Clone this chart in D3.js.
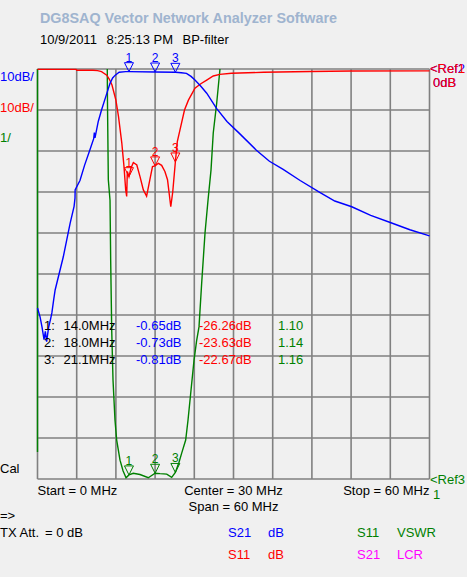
<!DOCTYPE html>
<html><head><meta charset="utf-8">
<script src="https://cdn.jsdelivr.net/npm/d3@7"></script>
<style>
html,body{margin:0;padding:0;background:#f0f0f0;}
svg{display:block;font-family:"Liberation Sans",Arial,sans-serif;}
</style></head>
<body>
<script>
// ---- data ----
const xGridTicks = [0,6,12,18,24,30,36,42,48,54,60];          // MHz
const dbGridTicks = [0,-10,-20,-30,-40,-50,-60,-70,-80,-90,-100];

// S21 (blue) transmission, dB
const s21Freq = [0,0.4,0.7,1.0,1.2,1.4,1.7,2.0,2.2,2.5,2.7,3.3,3.95,4.5,5.0,5.6,5.74,5.76,6.5,7.2,8.0,8.6,8.7,8.8,9.3,9.8,10.5,11.1,11.5,11.9,12.5,13.5,14.0,18.0,21.1,22.0,22.8,23.5,24.1,25.0,25.9,27.4,29.0,30.9,33.5,35.5,37.6,40.2,43.2,45.5,48.1,51,54.1,57,60];
const s21Db   = [-58.3,-60.5,-63,-66,-64,-66.5,-63,-61,-59.5,-56,-53.9,-50,-45.8,-41.5,-37.6,-33.5,-31.5,-29.5,-27.2,-23.5,-19.8,-17,-15.5,-16.8,-12.8,-10,-6.5,-3.5,-2.2,-1.5,-0.8,-0.65,-0.65,-0.73,-0.81,-0.9,-1.05,-1.8,-2.7,-4.2,-5.9,-9.6,-12.8,-15.7,-19.8,-22.5,-24.5,-27.2,-30.1,-32.2,-33.6,-35.7,-37.5,-39.2,-40.7];

// S11 (red) reflection, dB
const s11Freq = [0,5.9,6.0,8.5,9.2,9.8,10.6,11.0,11.4,12.0,12.4,12.9,13.24,13.5,13.65,13.75,14.0,14.3,14.67,15.2,15.7,16.2,16.7,17.2,17.6,18.0,18.5,19.0,19.5,19.9,20.4,20.7,21.1,21.4,21.8,22.5,23.1,24.1,25.0,25.9,26.9,27.9,29.7,34.6,41.7,48,60];
const s11Db   = [-0.1,-0.1,-0.3,-0.3,-0.4,-0.65,-1.5,-2.5,-3.9,-7.6,-11.6,-18,-23.8,-29.5,-31.1,-25,-26.26,-24.2,-22.8,-23.4,-26.3,-29.5,-31,-27,-23.8,-23.63,-23.0,-23.5,-25,-27,-33.6,-30,-22.67,-17.7,-14.9,-10,-7.6,-4.7,-3.6,-2.7,-1.7,-1.3,-1.05,-0.8,-0.6,-0.5,-0.45];

// S11 VSWR (green); null = off scale (not drawn)
const vswrFreq = [0,0,5,10.68,10.71,10.84,11.1,11.2,11.36,11.56,11.86,12.12,12.63,13.09,13.55,14.0,14.66,15.69,16.96,18.0,18.75,19.78,20.54,21.1,21.66,22.07,22.68,23.04,23.5,23.96,24.37,24.72,25.13,25.64,26.1,26.56,26.9,27.43,27.93];
const vswrVal  = [1.66,11,null,11,10.2,8.3,7.8,6.34,4.63,3.41,2.44,1.95,1.46,1.2,1.03,1.10,1.14,1.11,1.03,1.14,1.13,1.12,1.04,1.16,1.41,1.63,1.95,2.44,3.17,3.9,4.39,4.71,5.78,7.0,7.8,8.54,9.44,10.17,11];

// markers
const markerNum  = ["1","2","3"];
const markerFreq = [14.0,18.0,21.1];
const markerS21  = [-0.65,-0.73,-0.81];
const markerS11  = [-26.26,-23.63,-22.67];
const markerVswr = [1.10,1.14,1.16];
const markerFreqLabel = ["14.0MHz","18.0MHz","21.1MHz"];
const markerS21Label  = ["-0.65dB","-0.73dB","-0.81dB"];
const markerS11Label  = ["-26.26dB","-23.63dB","-22.67dB"];
const markerVswrLabel = ["1.10","1.14","1.16"];

// ---- drawing ----
const W = 467, H = 577;
const BLUE = "#0000ff", RED = "#ff0000", GREEN = "#008000", MAG = "#ff00ff", GRID = "#808080";
const svg = d3.select("body").append("svg").attr("width", W).attr("height", H);
svg.append("rect").attr("width", W).attr("height", H).attr("fill", "#f0f0f0");

const L = 37.5, R = 429.5, T = 69, B = 479;
const x = d3.scaleLinear().domain([0,60]).range([L,R]);
const yDb = d3.scaleLinear().domain([-100,0]).range([B,T]);
const yV = d3.scaleLinear().domain([1,11]).range([B,T]);

// grid
const g = svg.append("g");
g.selectAll("line.v").data(xGridTicks).join("line")
  .attr("x1", d => x(d)).attr("x2", d => x(d)).attr("y1", T).attr("y2", B)
  .attr("stroke", GRID).attr("stroke-width", 1.6);
g.selectAll("line.h").data(dbGridTicks).join("line")
  .attr("y1", d => yDb(d)).attr("y2", d => yDb(d)).attr("x1", L).attr("x2", R)
  .attr("stroke", GRID).attr("stroke-width", 1.6);

// traces
const vswrData = vswrFreq.map((f,i) => ({f, v: vswrVal[i]}));
svg.append("path").datum(vswrData)
  .attr("d", d3.line().defined(d => d.v !== null).x(d => x(d.f)).y(d => yV(d.v)))
  .attr("fill","none").attr("stroke",GREEN).attr("stroke-width",1.4);

const s11Data = s11Freq.map((f,i) => ({f, v: s11Db[i]}));
svg.append("path").datum(s11Data)
  .attr("d", d3.line().x(d => x(d.f)).y(d => yDb(d.v)))
  .attr("fill","none").attr("stroke",RED).attr("stroke-width",1.4);

const s21Data = s21Freq.map((f,i) => ({f, v: s21Db[i]}));
svg.append("path").datum(s21Data)
  .attr("d", d3.line().x(d => x(d.f)).y(d => yDb(d.v)))
  .attr("fill","none").attr("stroke",BLUE).attr("stroke-width",1.4);

// marker glyphs
function markers(vals, yScale, color) {
  const mg = svg.append("g");
  markerFreq.forEach((f,i) => {
    const px = x(f), py = yScale(vals[i]);
    mg.append("path")
      .attr("d", `M${px-4.5},${py-9}L${px+4.5},${py-9}L${px},${py}Z`)
      .attr("fill","none").attr("stroke",color).attr("stroke-width",1);
    mg.append("text").attr("x", px).attr("y", py-10).attr("text-anchor","middle")
      .attr("font-size",12).attr("fill",color).text(markerNum[i]);
  });
}
markers(markerVswr, yV, GREEN);
markers(markerS11, yDb, RED);
markers(markerS21, yDb, BLUE);

// text helper
function txt(s, px, py, color, opts={}) {
  const t = svg.append("text").attr("x", px).attr("y", py)
    .attr("font-size", opts.size || 13).attr("fill", color).text(s);
  if (opts.anchor) t.attr("text-anchor", opts.anchor);
  if (opts.weight) t.attr("font-weight", opts.weight);
  if (opts.len) t.attr("textLength", opts.len).attr("lengthAdjust","spacingAndGlyphs");
  return t;
}

// header
txt("DG8SAQ Vector Network Analyzer Software", 40, 23, "#9fb4cf", {size:14, weight:"bold", len:297});
txt("10/9/2011", 40, 44, "#000");
txt("8:25:13 PM", 106.5, 44, "#000");
txt("BP-filter", 182.5, 44, "#000");

// left scale labels
txt("10dB/", 0, 81, BLUE);
txt("10dB/", 0, 112, RED);
txt("1/", 0, 142, GREEN);
txt("Cal", 0, 473, "#000");

// right reference labels
txt("<Ref2", 430, 73, BLUE);
txt("0dB", 433, 87, BLUE);
txt("<Ref1", 430, 73, RED);
txt("0dB", 433, 87, RED);
txt("<Ref3", 430, 484, GREEN);
txt("1", 433, 499, GREEN);

// marker table
const rowY = [330, 347, 364];
markerNum.forEach((n,i) => {
  txt(n + ":", 44, rowY[i], "#000");
  txt(markerFreqLabel[i], 63.5, rowY[i], "#000");
  txt(markerS21Label[i], 136, rowY[i], BLUE);
  txt(markerS11Label[i], 199, rowY[i], RED);
  txt(markerVswrLabel[i], 278, rowY[i], GREEN);
});

// frequency axis info
txt("Start = 0 MHz", L, 495, "#000");
txt("Center = 30 MHz", x(30), 495, "#000", {anchor:"middle"});
txt("Stop = 60 MHz", R, 495, "#000", {anchor:"end"});
txt("Span = 60 MHz", x(30), 511, "#000", {anchor:"middle"});

// bottom info
txt("=>", 0, 520, "#000");
txt("TX Att.", 0, 537, "#000");
txt("= 0 dB", 45, 537, "#000");
txt("S21", 228, 537, BLUE);
txt("dB", 268, 537, BLUE);
txt("S11", 357, 537, GREEN);
txt("VSWR", 397, 537, GREEN);
txt("S11", 228, 559, RED);
txt("dB", 268, 559, RED);
txt("S21", 357, 559, MAG);
txt("LCR", 397, 559, MAG);
</script>
</body></html>
